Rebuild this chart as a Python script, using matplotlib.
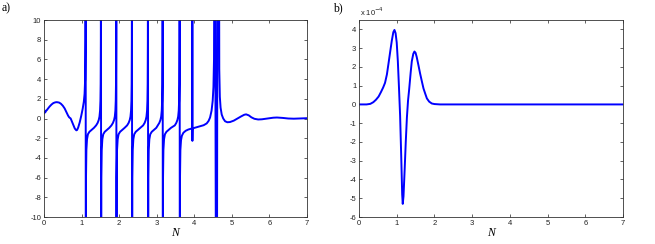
import numpy as np
import matplotlib
matplotlib.use('Agg')
import matplotlib.pyplot as plt

# ── data: panel a (values beyond ±10 are clipped by the axes) ─────
N_a = [0.00, 0.02, 0.035, 0.05, 0.07, 0.10, 0.15, 0.20, 0.25, 0.30, 0.34, 0.40,
       0.45, 0.50, 0.55, 0.60, 0.64, 0.67, 0.71, 0.74, 0.78, 0.82, 0.86, 0.88,
       0.91, 0.95, 0.99, 1.03, 1.06, 1.08, 1.095, 1.103, 1.109,
       # branch 1.109 -> 1.517
       1.112, 1.118, 1.128, 1.145, 1.169, 1.209, 1.269, 1.329, 1.387, 1.427,
       1.457, 1.477, 1.492, 1.502, 1.508, 1.513, 1.517,
       # branch 1.517 -> 1.925
       1.520, 1.526, 1.536, 1.553, 1.577, 1.617, 1.677, 1.737, 1.795, 1.835,
       1.865, 1.885, 1.900, 1.910, 1.916, 1.921, 1.925,
       # branch 1.925 -> 2.342
       1.928, 1.934, 1.944, 1.961, 1.985, 2.025, 2.085, 2.145, 2.212, 2.252,
       2.282, 2.302, 2.317, 2.327, 2.333, 2.338, 2.342,
       # branch 2.342 -> 2.768
       2.345, 2.351, 2.361, 2.378, 2.402, 2.442, 2.502, 2.562, 2.638, 2.678,
       2.708, 2.728, 2.743, 2.753, 2.759, 2.764, 2.768,
       # branch 2.768 -> 3.159
       2.771, 2.777, 2.787, 2.804, 2.828, 2.868, 2.928, 2.988, 3.029, 3.069,
       3.099, 3.119, 3.134, 3.144, 3.150, 3.155, 3.159,
       # branch 3.159 -> 3.611
       3.162, 3.168, 3.178, 3.195, 3.219, 3.259, 3.319, 3.379, 3.481, 3.521,
       3.551, 3.571, 3.586, 3.596, 3.602, 3.607, 3.611,
       # branch 3.611 -> 3.949 and narrow spike
       3.614, 3.620, 3.630, 3.647, 3.670, 3.710, 3.770, 3.840, 3.900, 3.946,
       3.948, 3.950, 3.953, 3.960,
       # branch 3.96 -> 4.54, cluster of poles
       4.05, 4.15, 4.25, 4.33, 4.38, 4.42, 4.46, 4.49, 4.51, 4.525, 4.545,
       4.585, 4.600, 4.620, 4.655,
       # tail
       4.665, 4.68, 4.70, 4.73, 4.77, 4.82, 4.88, 4.95, 5.05, 5.15, 5.25, 5.33,
       5.38, 5.45, 5.52, 5.60, 5.70, 5.80, 5.95, 6.10, 6.20, 6.35, 6.50, 6.65,
       6.80, 7.00]
V_a = [0.55, 0.68, 0.62, 0.80, 0.82, 0.98, 1.22, 1.42, 1.57, 1.64, 1.66, 1.62,
       1.50, 1.30, 1.02, 0.62, 0.30, 0.12, 0.00, -0.28, -0.65, -1.02, -1.20, -1.17,
       -0.92, -0.40, 0.25, 1.00, 1.70, 2.50, 4.00, 8.00, 30.0,
       -30.0, -6.0, -3.2, -2.1, -1.6, -1.35, -1.15, -0.95, -0.70, -0.45,
       -0.15, 0.20, 0.80, 1.80, 3.50, 8.00, 30.0,
       -30.0, -6.0, -3.2, -2.1, -1.6, -1.35, -1.15, -0.95, -0.70, -0.45,
       -0.15, 0.20, 0.80, 1.80, 3.50, 8.00, 30.0,
       -30.0, -6.0, -3.2, -2.1, -1.6, -1.35, -1.15, -0.95, -0.70, -0.45,
       -0.15, 0.20, 0.80, 1.80, 3.50, 8.00, 30.0,
       -30.0, -6.0, -3.2, -2.1, -1.6, -1.35, -1.15, -0.95, -0.70, -0.45,
       -0.15, 0.20, 0.80, 1.80, 3.50, 8.00, 30.0,
       -30.0, -6.0, -3.2, -2.1, -1.6, -1.35, -1.15, -0.95, -0.70, -0.45,
       -0.15, 0.20, 0.80, 1.80, 3.50, 8.00, 30.0,
       -30.0, -6.0, -3.2, -2.1, -1.6, -1.35, -1.15, -0.95, -0.70, -0.45,
       -0.15, 0.20, 0.80, 1.80, 3.50, 8.00, 30.0,
       -30.0, -6.0, -3.2, -2.2, -1.75, -1.45, -1.25, -1.12, -1.05, -1.00,
       30.0, -2.27, -1.20, -1.00,
       -0.90, -0.80, -0.68, -0.50, -0.25, 0.10, 0.80, 1.80, 3.20, 6.00, 30.0,
       -30.0, -30.0, 30.0, 30.0,
       5.0, 2.2, 1.1, 0.40, 0.00, -0.28, -0.38, -0.36, -0.22, 0.00, 0.22, 0.38,
       0.42, 0.32, 0.12, -0.03, -0.10, -0.08, 0.00, 0.08, 0.10, 0.06, 0.00, -0.02,
       0.00, 0.03]

# ── data: panel b (units of 1e-4) ─────────────────────────────────
N_b = [0.00, 0.20, 0.30, 0.38, 0.45, 0.52, 0.58, 0.64, 0.69, 0.74, 0.78, 0.83,
       0.87, 0.91, 0.94, 0.97, 1.00, 1.03, 1.06, 1.09, 1.12, 1.145, 1.16, 1.18,
       1.21, 1.24, 1.27, 1.30, 1.33, 1.37, 1.40, 1.44, 1.47, 1.50, 1.53, 1.58,
       1.62, 1.67, 1.71, 1.76, 1.80, 1.86, 1.93, 2.00, 2.15, 3.0, 4.0, 5.0, 6.0, 7.0]
V_b = [0.00, 0.00, 0.03, 0.12, 0.25, 0.42, 0.65, 0.90, 1.15, 1.60, 2.15, 2.85,
       3.40, 3.85, 3.97, 3.80, 3.30, 2.30, 0.90, -0.60, -2.80, -4.80, -5.30, -4.90,
       -3.50, -2.00, -0.70, 0.20, 0.80, 1.70, 2.30, 2.70, 2.82, 2.75, 2.53, 2.05,
       1.65, 1.20, 0.85, 0.55, 0.32, 0.15, 0.05, 0.02, 0.00, 0.00, 0.00, 0.00, 0.00, 0.00]

plt.rcParams['axes.unicode_minus'] = False
plt.rcParams['font.family'] = ['Liberation Sans', 'DejaVu Sans']

BLUE = '#0000ff'
fig = plt.figure(figsize=(6.55, 2.44), dpi=100)
ax_a = fig.add_axes([44 / 655, 1 - 217 / 244, 263 / 655, 197 / 244])
ax_b = fig.add_axes([359 / 655, 1 - 217 / 244, 264 / 655, 197 / 244])

ax_a.plot(N_a, V_a, color=BLUE, linewidth=1.4)
ax_a.set_xlim(0, 7)
ax_a.set_ylim(-10, 10)
ax_a.set_yticks(np.arange(-10, 11, 2))

ax_b.plot(N_b, V_b, color=BLUE, linewidth=1.4)
ax_b.set_xlim(0, 7)
ax_b.set_ylim(-6, 4.5)
ax_b.set_yticks(np.arange(-6, 5, 1))

for ax in (ax_a, ax_b):
    ax.set_xticks(np.arange(0, 8, 1))
    ax.tick_params(direction='in', length=2.5, width=0.5, labelsize=5.5,
                   top=True, right=True, pad=2, colors='#222222')
    for s in ax.spines.values():
        s.set_linewidth(0.6)
        s.set_color('#333333')
    ax.set_xlabel('N', family=['Liberation Serif', 'DejaVu Serif'], style='italic',
                  fontsize=8.5, labelpad=0)

fig.text(0.003, 0.955, 'a)', family=['Liberation Serif', 'DejaVu Serif'], fontsize=8.5)
fig.text(0.508, 0.955, 'b)', family=['Liberation Serif', 'DejaVu Serif'], fontsize=8.5)
fig.text(360 / 655, 1 - 16 / 244, r'x 10$^{-4}$', fontsize=5.5, color='#222222')

fig.savefig('out.png', dpi=100)
